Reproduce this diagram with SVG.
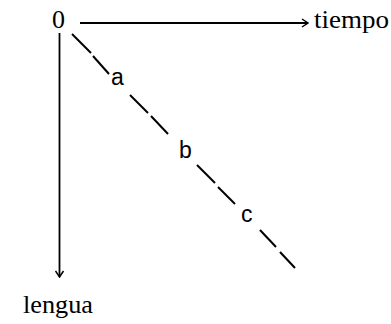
<svg xmlns="http://www.w3.org/2000/svg" width="391" height="324" viewBox="0 0 391 324">
<defs>
<marker id="arr" viewBox="0 0 10 10" refX="9" refY="5" markerWidth="10" markerHeight="10" markerUnits="userSpaceOnUse" orient="auto">
<path d="M3,1 L9,5 L3,9" fill="none" stroke="#000" stroke-width="1.5"/>
</marker>
<style>
.serif{font-family:"Liberation Serif","Times New Roman",serif;font-size:26px;fill:#000}
.sans{font-family:"Liberation Sans",Arial,sans-serif;font-size:23px;fill:#000}
.ax{stroke:#000;stroke-width:1.8;fill:none}
.dash{stroke:#000;stroke-width:2;fill:none}
</style>
</defs>
<rect width="391" height="324" fill="#fff"/>
<g id="connectors">
<line class="ax" x1="80" y1="23" x2="308" y2="23" marker-end="url(#arr)"/>
<line class="ax" x1="59.5" y1="33" x2="59.5" y2="277" marker-end="url(#arr)"/>
<g id="diagonal">
<line class="dash" x1="72" y1="34" x2="91" y2="53"/>
<line class="dash" x1="93" y1="56" x2="109" y2="74"/>
<line class="dash" x1="130" y1="95" x2="148" y2="113"/>
<line class="dash" x1="151" y1="116" x2="168" y2="134"/>
<line class="dash" x1="197" y1="165" x2="215" y2="183"/>
<line class="dash" x1="218" y1="187" x2="235" y2="204"/>
<line class="dash" x1="260" y1="230" x2="276" y2="247"/>
<line class="dash" x1="280" y1="252" x2="295" y2="268"/>
</g>
</g>
<g id="origin"><text class="serif" x="52" y="28">0</text></g>
<g id="tiempo"><text class="serif" x="314" y="28" textLength="75" lengthAdjust="spacingAndGlyphs">tiempo</text></g>
<g id="lengua"><text class="serif" x="23" y="313" textLength="70" lengthAdjust="spacingAndGlyphs">lengua</text></g>
<g id="a"><text class="sans" x="111" y="85">a</text></g>
<g id="b"><text class="sans" x="179" y="158">b</text></g>
<g id="c"><text class="sans" x="241" y="222">c</text></g>
</svg>
